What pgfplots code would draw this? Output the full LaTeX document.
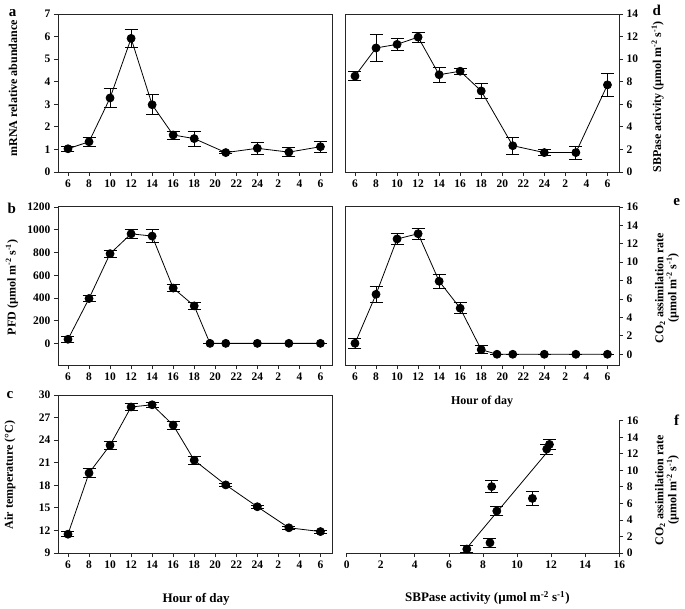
\documentclass[border=0pt]{standalone}
\usepackage{fontspec}
\setmainfont{Liberation Serif}
\usepackage{pgfplots}
\pgfplotsset{compat=1.18}
\pgfplotsset{
  panel/.style={
    scale only axis, width=274pt, height=158pt,
    clip=false,
    axis line style={black!85, line width=0.8pt},
    tick align=outside, major tick length=4pt,
    tick style={black!85, line width=0.8pt},
    /pgf/number format/assume math mode=true,
    ticklabel style={font=\bfseries\fontsize{11.5}{12}\selectfont},
    every axis label/.append style={font=\bfseries\fontsize{12}{13}\selectfont},
  },
  timeax/.style={
    xmin=5.05, xmax=31.1,
    xtick={6,8,10,12,14,16,18,20,22,24,26,28,30},
    xticklabels={6,8,10,12,14,16,18,20,22,24,2,4,6},
    xtick pos=left,
  },
  dat/.style={
    black, line width=0.8pt, mark=*, mark size=4pt, mark options={solid, fill=black},
    error bars/y dir=both, error bars/y explicit,
    error bars/error bar style={line width=0.8pt, black},
    error bars/error mark=-,
    error bars/error mark options={rotate=90, black, mark size=6.5pt, line width=0.8pt},
  },
}
\begin{document}
\begin{tikzpicture}
\path[use as bounding box] (0pt,0pt) rectangle (685pt,608pt);
% panel a
\begin{axis}[panel, timeax, at={(58pt,436pt)}, anchor=south west, ymin=0, ymax=7, ytick={0,1,...,7}, ytick pos=left,
  ylabel={mRNA relative abundance},
  ylabel style={at={(axis description cs:-0.164,0.53)}, anchor=center}]
\addplot+[dat] table[x=x,y=y,y error=e] {
x y e
6 1.03 0.12
8 1.34 0.2
10 3.28 0.42
12 5.92 0.4
14 2.98 0.44
16 1.64 0.18
18 1.48 0.33
21 0.86 0.05
24 1.05 0.28
27 0.88 0.2
30 1.12 0.23
};
\end{axis}
% panel d
\begin{axis}[panel, timeax, at={(345pt,436pt)}, anchor=south west, ymin=0, ymax=14, ytick={0,2,...,14}, ytick pos=right, yticklabel pos=right,
  ylabel={SBPase activity (µmol m\textsuperscript{-2} s\textsuperscript{-1})},
  ylabel style={at={(axis description cs:1.141,0.475)}, anchor=center}]
\addplot+[dat] table[x=x,y=y,y error=e] {
x y e
6 8.5 0.4
8 10.99 1.2
10 11.31 0.56
12 11.95 0.43
14 8.62 0.65
16 8.93 0.25
18 7.18 0.7
21 2.33 0.77
24 1.72 0.24
27 1.72 0.58
30 7.72 1.0
};
\end{axis}
% panel b
\begin{axis}[panel, timeax, at={(58pt,242.5pt)}, anchor=south west, height=159.5pt, ymin=-195, ymax=1210, ytick={0,200,...,1200}, ytick pos=left,
  yticklabel style={/pgf/number format/set thousands separator={}},
  ylabel={PFD (µmol m\textsuperscript{-2} s\textsuperscript{-1})},
  ylabel style={at={(axis description cs:-0.168,0.49)}, anchor=center}]
\addplot+[dat] table[x=x,y=y,y error=e] {
x y e
6 36 24
8 395 24
10 790 30
12 965 37
14 945 60
16 487 30
18 330 34
19.5 0 0
21 0 0
24 0 0
27 0 0
30 0 0
};
\end{axis}
% panel e
\begin{axis}[panel, timeax, at={(345pt,242.5pt)}, anchor=south west, height=159.5pt, ymin=-1.22, ymax=16.1, ytick={0,2,...,16}, ytick pos=right, yticklabel pos=right,
  ylabel={CO\textsubscript{2} assimilation rate\\(µmol m\textsuperscript{-2} s\textsuperscript{-1})},
  ylabel style={at={(axis description cs:1.175,0.486)}, anchor=center, align=center},
  xlabel={Hour of day},
  xlabel style={at={(axis description cs:0.5,-0.227)}, anchor=center}]
\addplot+[dat] table[x=x,y=y,y error=e] {
x y e
6 1.19 0.5
8 6.51 0.9
10 12.52 0.6
12 13.09 0.58
14 7.93 0.74
16 5.0 0.58
18 0.5 0.45
19.5 0 0
21 0 0
24 0 0
27 0 0
30 0 0
};
\end{axis}
% panel c
\begin{axis}[panel, timeax, at={(58pt,55pt)}, anchor=south west, ymin=9, ymax=30, ytick={9,12,...,30}, ytick pos=left,
  ylabel={Air temperature (°C)},
  ylabel style={at={(axis description cs:-0.175,0.494)}, anchor=center},
  xlabel={Hour of day},
  xlabel style={at={(axis description cs:0.504,-0.291)}, anchor=center, font=\bfseries\fontsize{13}{14}\selectfont}]
\addplot+[dat] table[x=x,y=y,y error=e] {
x y e
6 11.5 0.35
8 19.63 0.56
10 23.33 0.56
12 28.41 0.51
14 28.7 0.3
16 26.0 0.55
18 21.33 0.55
21 18.05 0.2
24 15.15 0.2
27 12.35 0.2
30 11.85 0.2
};
\end{axis}
% panel f
\begin{axis}[panel, at={(346.7pt,55pt)}, anchor=south west, width=272.6pt, height=132.3pt,
  xmin=0, xmax=16, ymin=0, ymax=16, xtick={0,2,...,16}, ytick={0,2,...,16},
  axis x line*=bottom, axis y line*=right,
  ylabel={CO\textsubscript{2} assimilation rate\\(µmol m\textsuperscript{-2} s\textsuperscript{-1})},
  ylabel style={at={(axis description cs:1.175,0.476)}, anchor=center, align=center},
  xlabel={SBPase activity (µmol m\textsuperscript{-2} s\textsuperscript{-1})},
  xlabel style={at={(axis description cs:0.516,-0.34)}, anchor=center, font=\bfseries\fontsize{13}{14}\selectfont}]
\addplot[black, line width=0.8pt] coordinates {(7.05,0.6) (11.85,12.4)};
\addplot+[only marks, dat] table[x=x,y=y,y error=e] {
x y e
7.05 0.48 0.42
8.41 1.24 0.55
8.51 8.03 0.72
8.81 5.08 0.56
10.9 6.6 0.9
11.74 12.57 0.6
11.9 13.13 0.6
};
\end{axis}
% panel letters
\node[font=\bfseries\fontsize{15}{15}\selectfont] at (12.7pt,594.7pt) {a};
\node[font=\bfseries\fontsize{15}{15}\selectfont] at (11.7pt,399.7pt) {b};
\node[font=\bfseries\fontsize{15}{15}\selectfont] at (10pt,213pt) {c};
\node[font=\bfseries\fontsize{15}{15}\selectfont] at (656.7pt,598pt) {d};
\node[font=\bfseries\fontsize{15}{15}\selectfont] at (676.7pt,405.7pt) {e};
\node[font=\bfseries\fontsize{15}{15}\selectfont] at (676.7pt,187.3pt) {f};
\end{tikzpicture}
\end{document}
